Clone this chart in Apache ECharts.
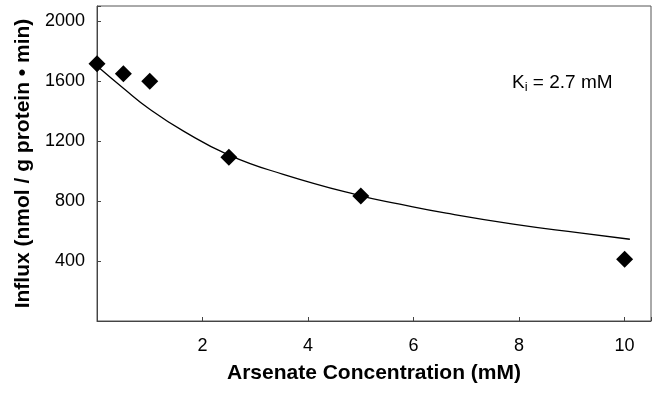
<!DOCTYPE html>
<html><head><meta charset="utf-8">
<script src="https://cdn.jsdelivr.net/npm/echarts@6/dist/echarts.min.js"></script>
<style>html,body{margin:0;padding:0;background:#fff}#c{width:654px;height:405px}</style>
</head><body><div id="c"></div>
<script>
// Measured data (Arsenate concentration mM vs influx)
const concX = [0, 0.5, 1, 2.5, 5, 10];
const influxY = [1715, 1648, 1599, 1091, 834, 411];
// Fitted curve
const fitX = [0, 0.5, 1, 1.64, 2.49, 3.53, 4.98, 5.74, 6.62, 7.89, 9.15, 10.1];
const fitY = [1700, 1552, 1412, 1266, 1108, 978, 836, 779, 719, 646, 587, 545];
const xTicks = [2, 4, 6, 8, 10];
const yTicks = [400, 800, 1200, 1600, 2000];

const font = 'Liberation Sans, Arial, sans-serif';
const chart = echarts.init(document.getElementById('c'), null, {renderer: 'canvas'});
chart.setOption({
  animation: false,
  grid: {left: 97, right: 3, top: 6, bottom: 84, show: true, borderColor: '#555', borderWidth: 1},
  xAxis: {
    type: 'value', min: 0, max: 10.5, interval: 2,
    name: 'Arsenate Concentration (mM)', nameLocation: 'middle', nameGap: 42,
    nameTextStyle: {fontFamily: font, fontWeight: 'bold', fontSize: 21, color: '#000'},
    axisLine: {show: true, onZero: false, lineStyle: {color: '#444', width: 1}},
    axisTick: {show: true, inside: true, length: 4, lineStyle: {color: '#444'}},
    splitLine: {show: false},
    axisLabel: {fontFamily: font, fontSize: 18, color: '#000', margin: 16,
      formatter: v => xTicks.includes(v) ? String(v) : ''}
  },
  yAxis: {
    type: 'value', min: 0, max: 2100, interval: 400,
    name: 'Influx (nmol / g protein \u2022 min)', nameLocation: 'middle', nameGap: 63,
    nameTextStyle: {fontFamily: font, fontWeight: 'bold', fontSize: 21, color: '#000'},
    axisLine: {show: true, onZero: false, lineStyle: {color: '#444', width: 1}},
    axisTick: {show: true, inside: true, length: 4, lineStyle: {color: '#444'}},
    splitLine: {show: false},
    axisLabel: {fontFamily: font, fontSize: 18, color: '#000', margin: 12,
      formatter: v => yTicks.includes(v) ? String(v) : ''}
  },
  graphic: [{
    type: 'text', left: 512, top: 73,
    style: {
      text: 'K{sub|i} = 2.7 mM', fontFamily: font, fontSize: 19, fill: '#000',
      rich: {sub: {fontFamily: font, fontSize: 13, padding: [10, 0, 0, 0]}}
    }
  }],
  series: [{
    type: 'line', data: fitX.map((x, i) => [x, fitY[i]]), smooth: 0.5,
    showSymbol: false, symbol: 'none', lineStyle: {color: '#000', width: 1.3}, z: 2
  }, {
    type: 'scatter', data: concX.map((x, i) => [x, influxY[i]]),
    symbol: 'diamond', symbolSize: [17, 17], itemStyle: {color: '#000', opacity: 1}, z: 3
  }]
});
</script></body></html>
